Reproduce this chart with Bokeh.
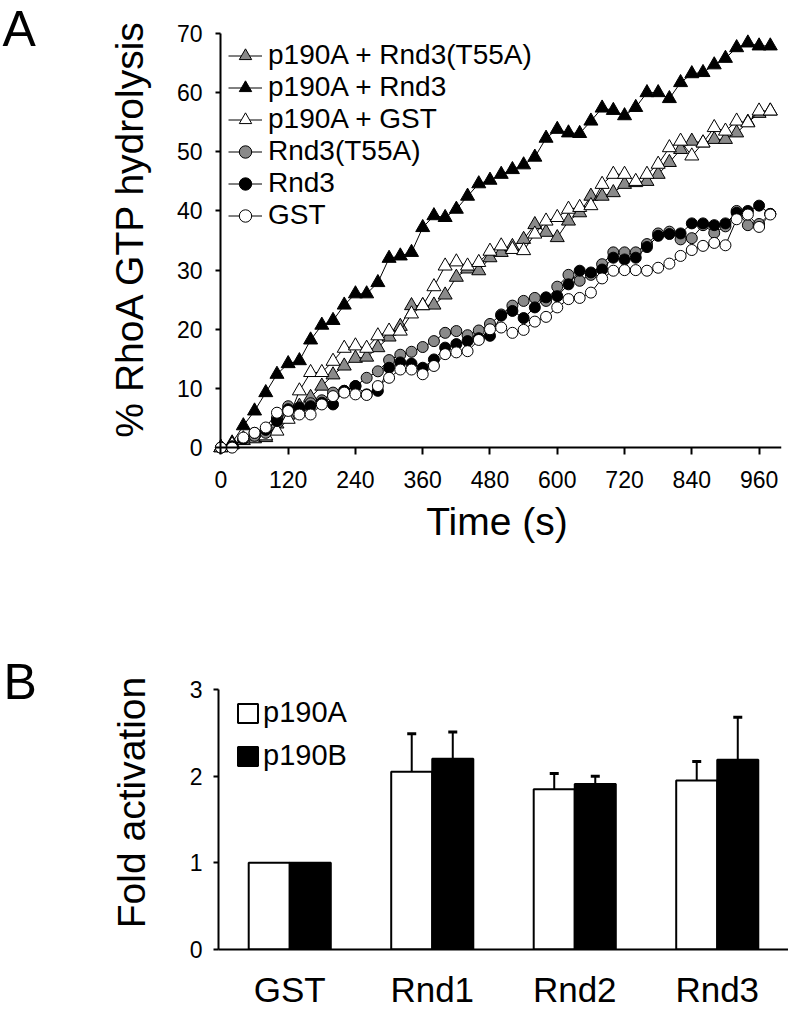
from bokeh.plotting import figure
from bokeh.models import (ColumnDataSource, Range1d, FactorRange, FixedTicker, Legend,
                          LegendItem, Label, LinearAxis)
from bokeh.layouts import column, row
from bokeh.transform import dodge
from bokeh.embed import file_html
from bokeh.resources import INLINE

FONT = "Liberation Sans"
GRAY = "#8a8a8a"

# ---------------- Panel A data ----------------
time_s = list(range(0, 1000, 20))
x_ticks = [0, 120, 240, 360, 480, 600, 720, 840, 960]
y_ticks_A = [0, 10, 20, 30, 40, 50, 60, 70]

p190A_Rnd3_T55A = [0, 0.5, 1.2, 1.5, 1.7, 4.0, 5.5, 7.0, 8.5, 10.4,
                   12.3, 13.8, 15.1, 15.3, 16.9, 18.7, 20.5, 24.0, 24.0, 24.1,
                   25.8, 28.8, 30.2, 29.9, 32.1, 33.0, 34.0, 35.2, 37.7, 36.4,
                   35.5, 38.3, 39.7, 42.5, 42.5, 43.1, 44.5, 44.8, 45.0, 46.2,
                   48.2, 50.4, 51.8, 51.5, 52.1, 52.1, 53.2, 55.0, 56.5, 56.9]
p190A_Rnd3 = [0, 0.8, 3.7, 6.2, 9.3, 12.4, 14.2, 14.7, 18.2, 20.7,
              21.5, 24.1, 26.0, 26.0, 27.9, 32.0, 32.4, 33.0, 37.2, 39.2,
              38.9, 40.3, 42.5, 44.6, 45.2, 46.2, 47.0, 47.8, 49.1, 52.3,
              53.8, 53.2, 53.1, 55.2, 57.4, 57.0, 56.1, 57.5, 60.0, 60.0,
              59.0, 61.7, 63.2, 63.4, 64.7, 65.8, 67.6, 68.4, 67.9, 67.9]
p190A_GST = [0, 0.5, 1.5, 2.0, 2.0, 2.8, 4.8, 9.6, 12.7, 12.7,
             14.6, 16.8, 17.2, 16.8, 18.9, 19.7, 19.7, 22.6, 24.0, 27.2,
             30.7, 31.4, 30.7, 31.3, 33.2, 34.1, 33.5, 33.3, 36.1, 38.3,
             38.9, 40.3, 40.6, 40.9, 44.5, 46.2, 46.2, 45.0, 46.2, 47.9,
             50.7, 51.8, 49.3, 51.5, 54.1, 53.5, 55.2, 54.9, 56.9, 56.9]
Rnd3_T55A = [0, 0.2, 1.5, 2.0, 2.5, 5.0, 7.0, 6.5, 7.5, 8.0,
             9.3, 9.6, 10.4, 11.8, 12.9, 14.8, 15.7, 16.2, 17.0, 18.0,
             19.4, 19.7, 19.0, 19.8, 20.9, 22.5, 24.0, 24.8, 25.3, 24.8,
             27.2, 29.2, 28.2, 29.2, 31.0, 33.0, 33.0, 33.0, 34.4, 36.2,
             36.5, 35.2, 35.4, 37.6, 36.3, 37.4, 40.0, 37.6, 37.8, 39.5]
Rnd3 = [0, 0.2, 1.5, 2.5, 3.0, 4.5, 6.5, 6.8, 7.0, 7.6,
        7.3, 9.6, 10.4, 9.0, 9.6, 13.5, 14.4, 14.2, 13.5, 14.9,
        16.9, 17.5, 18.0, 18.5, 18.9, 22.3, 23.1, 21.9, 23.7, 25.4,
        25.6, 27.6, 29.9, 29.6, 30.1, 32.1, 31.8, 32.1, 33.9, 35.8,
        36.1, 36.2, 37.9, 37.9, 37.6, 37.9, 39.7, 40.0, 40.9, 39.5]
GST = [0, 0, 1.7, 2.5, 3.4, 5.9, 6.2, 5.6, 5.6, 7.3,
       8.7, 9.3, 9.0, 8.9, 10.4, 11.8, 13.2, 13.2, 12.4, 13.8,
       15.8, 16.1, 16.3, 18.2, 20.0, 20.3, 19.4, 19.9, 21.3, 22.1,
       23.7, 25.1, 25.3, 26.2, 28.6, 29.9, 30.0, 30.0, 29.9, 30.4,
       31.1, 32.4, 33.4, 34.1, 34.6, 34.2, 38.6, 39.4, 37.3, 39.4]

series_names = ["p190A + Rnd3(T55A)", "p190A + Rnd3", "p190A + GST",
                "Rnd3(T55A)", "Rnd3", "GST"]
series_values = [p190A_Rnd3_T55A, p190A_Rnd3, p190A_GST, Rnd3_T55A, Rnd3, GST]
series_markers = ["triangle", "triangle", "triangle", "circle", "circle", "circle"]
series_fills = [GRAY, "black", "white", GRAY, "black", "white"]

# ---------------- Panel B data ----------------
categories = ["GST", "Rnd1", "Rnd2", "Rnd3"]
p190A_mean = [1.0, 2.05, 1.85, 1.95]
p190A_err = [0.0, 0.44, 0.18, 0.22]
p190B_mean = [1.0, 2.20, 1.91, 2.19]
p190B_err = [0.0, 0.31, 0.09, 0.49]
y_ticks_B = [0, 1, 2, 3]

LETTER_W = 40
HA, A_TOP, A_BOT = 556, 0, 100
HB, B_TOP, B_BOT = 464, 99, 71
yrA = (-1.5, 75.57)
yrB = (0, 3.392)


def letter_fig(h, top, bot, yr, letter, x, y):
    f = figure(width=LETTER_W, height=h, output_backend="svg", toolbar_location=None,
               x_range=Range1d(0, LETTER_W), y_range=Range1d(*yr),
               x_axis_location=None, y_axis_location=None,
               min_border_left=0, min_border_right=0, min_border_top=top, min_border_bottom=bot)
    f.outline_line_color = None
    f.grid.visible = False
    f.add_layout(Label(x=x, y=y, text=letter, text_font=FONT, text_font_size="50px",
                       text_baseline="middle", text_color="black"))
    return f


def style_text(ax, tick_size, label_size):
    ax.major_label_text_font = FONT
    ax.major_label_text_font_size = tick_size
    ax.major_label_text_color = "black"
    ax.axis_label_text_font = FONT
    ax.axis_label_text_font_size = label_size
    ax.axis_label_text_font_style = "normal"
    ax.axis_label_text_color = "black"


# ================= Panel A =================
pA = figure(width=788 - LETTER_W, height=HA, output_backend="svg", toolbar_location=None,
            x_range=Range1d(-15, 1000), y_range=Range1d(*yrA),
            x_axis_location=None, y_axis_location=None,
            min_border_left=212 - LETTER_W, min_border_right=7,
            min_border_top=A_TOP, min_border_bottom=A_BOT)
pA.outline_line_color = None
for g in pA.grid:
    g.visible = False

items = []
for name, vals, mk, fc in zip(series_names, series_values, series_markers, series_fills):
    src = ColumnDataSource(dict(t=time_s, v=vals))
    lr = pA.line("t", "v", source=src, line_color="black", line_width=1)
    sr = pA.scatter("t", "v", source=src, marker=mk, size=14 if mk == "triangle" else 11,
                    fill_color=fc, line_color="black", line_width=1)
    items.append(LegendItem(label=name, renderers=[lr, sr]))

legA = Legend(items=items, location=(16, 225), margin=0, padding=0, spacing=0,
              glyph_width=34, glyph_height=31, label_standoff=6,
              label_text_font=FONT, label_text_font_size="28px", label_text_color="black",
              border_line_color=None, background_fill_alpha=0)
pA.add_layout(legA)

# axis lines + ticks crossing at the origin
xa_line = LinearAxis(fixed_location=0, bounds=(0, 1000), ticker=FixedTicker(ticks=x_ticks))
ya_line = LinearAxis(fixed_location=0, bounds=(0, 70), ticker=FixedTicker(ticks=y_ticks_A))
for ax in (xa_line, ya_line):
    ax.axis_line_width = 2
    ax.major_tick_line_width = 2
    ax.major_tick_in = 0
    ax.minor_tick_line_color = None
    ax.major_label_text_color = None
xa_line.major_tick_out = 7
ya_line.major_tick_out = 5
pA.add_layout(xa_line, "below")
pA.add_layout(ya_line, "left")

# tick labels + axis titles
xa_lab = LinearAxis(ticker=FixedTicker(ticks=x_ticks), axis_label="Time (s)", bounds=(0, 1000))
ya_lab = LinearAxis(ticker=FixedTicker(ticks=y_ticks_A), axis_label="% RhoA GTP hydrolysis",
                    bounds=(0, 71.4))
for ax in (xa_lab, ya_lab):
    ax.axis_line_color = None
    ax.major_tick_line_color = None
    ax.minor_tick_line_color = None
    ax.major_tick_in = 0
    ax.major_tick_out = 0
    style_text(ax, "23px", "39px")
xa_lab.major_label_standoff = 14
xa_lab.axis_label_standoff = 9
ya_lab.major_label_standoff = 10
ya_lab.axis_label_standoff = 23
pA.add_layout(xa_lab, "below")
pA.add_layout(ya_lab, "left")

# ================= Panel B =================
pB = figure(width=788 - LETTER_W, height=HB, output_backend="svg", toolbar_location=None,
            x_range=FactorRange(factors=categories), y_range=Range1d(*yrB),
            min_border_left=218 - LETTER_W, min_border_right=0,
            min_border_top=B_TOP, min_border_bottom=B_BOT)
pB.outline_line_color = None
pB.grid.visible = False

srcB = ColumnDataSource(dict(cat=categories, a=p190A_mean, b=p190B_mean))
ra = pB.vbar(x=dodge("cat", -0.144, range=pB.x_range), top="a", width=0.288, source=srcB,
             fill_color="white", line_color="black", line_width=2)
rb = pB.vbar(x=dodge("cat", 0.144, range=pB.x_range), top="b", width=0.288, source=srcB,
             fill_color="black", line_color="black", line_width=2)

err_idx = [i for i, (ea, eb) in enumerate(zip(p190A_err, p190B_err)) if ea > 0 or eb > 0]
srcE = ColumnDataSource(dict(cat=[categories[i] for i in err_idx],
                             a=[p190A_mean[i] for i in err_idx],
                             b=[p190B_mean[i] for i in err_idx],
                             a_hi=[p190A_mean[i] + p190A_err[i] for i in err_idx],
                             b_hi=[p190B_mean[i] + p190B_err[i] for i in err_idx]))
for off, lo, hi in ((-0.144, "a", "a_hi"), (0.144, "b", "b_hi")):
    xs = dodge("cat", off, range=pB.x_range)
    pB.segment(x0=xs, y0=lo, x1=xs, y1=hi, source=srcE, line_color="black", line_width=2)
    pB.scatter(x=xs, y=hi, source=srcE, marker="dash", size=9, line_color="black", line_width=3)

legB = Legend(items=[LegendItem(label="p190A", renderers=[ra]),
                     LegendItem(label="p190B", renderers=[rb])],
              location=(17, 177), margin=0, padding=0, spacing=10,
              glyph_width=25, glyph_height=24, label_standoff=3,
              label_text_font=FONT, label_text_font_size="29px", label_text_color="black",
              border_line_color=None, background_fill_alpha=0)
pB.add_layout(legB)

pB.yaxis.ticker = FixedTicker(ticks=y_ticks_B)
pB.yaxis.bounds = (0, 3)
pB.yaxis.axis_label = "Fold activation"
pB.yaxis.major_tick_out = 5
pB.yaxis.major_tick_in = 0
pB.yaxis.major_label_standoff = 11
pB.yaxis.axis_label_standoff = 34
pB.xaxis.major_tick_out = 0
pB.xaxis.major_tick_in = 0
pB.xaxis.major_label_standoff = 20
for ax in (pB.xaxis, pB.yaxis):
    ax.axis_line_width = 2
    ax.major_tick_line_width = 2
    ax.minor_tick_line_color = None
style_text(pB.yaxis[0], "23px", "39px")
style_text(pB.xaxis[0], "35px", "39px")

letterA = letter_fig(HA, A_TOP, A_BOT, yrA, "A", 2, 70.83)
letterB = letter_fig(HB, B_TOP, B_BOT, yrB, "B", 3, 3.092)

layout = column(row(letterA, pA), row(letterB, pB))
open("out.html", "w").write(file_html(layout, INLINE))
